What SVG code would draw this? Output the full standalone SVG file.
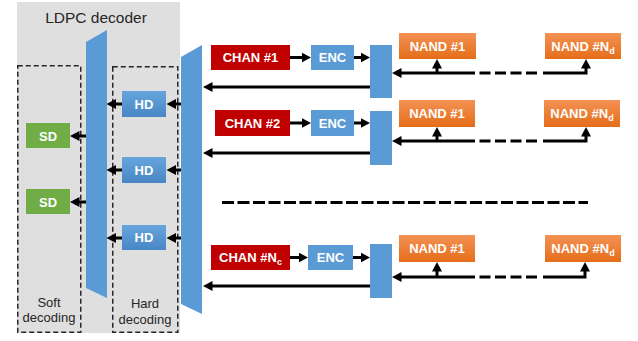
<svg xmlns="http://www.w3.org/2000/svg" width="638" height="341" viewBox="0 0 638 341">
  <style>
    .lbl { font-family: "Liberation Sans", Arial, sans-serif; font-weight: bold; font-size: 13px; fill: #ffffff; text-anchor: middle; }
    .cap { font-family: "Liberation Sans", Arial, sans-serif; font-size: 13px; fill: #262626; text-anchor: middle; }
    .title { font-family: "Liberation Sans", Arial, sans-serif; font-size: 15.5px; fill: #262626; text-anchor: middle; }
    .chan { fill: #C00000; }
    .blue { fill: #5B9BD5; }
    .nand { fill: url(#gNand); }
    .hd { fill: url(#gHd); }
    .sd { fill: #70AD47; }
    .dashbox { fill: none; stroke: #262626; stroke-width: 1.5; stroke-dasharray: 5 3; }
    .wire { fill: none; stroke: #000; stroke-width: 3; marker-end: url(#arr); }
    .plain { fill: none; stroke: #000; stroke-width: 3; }
    .dash { fill: none; stroke: #000; stroke-width: 3; stroke-dasharray: 11 4.5; }
  </style>
  <defs>
    <linearGradient id="gNand" x1="0" y1="0" x2="0" y2="1">
      <stop offset="0" stop-color="#F39254"/>
      <stop offset="1" stop-color="#E56D19"/>
    </linearGradient>
    <linearGradient id="gHd" x1="0" y1="0" x2="0" y2="1">
      <stop offset="0" stop-color="#67A5DD"/>
      <stop offset="1" stop-color="#4886C5"/>
    </linearGradient>
    <marker id="arr" markerUnits="userSpaceOnUse" markerWidth="10" markerHeight="11" viewBox="0 0 10 11" refX="4.5" refY="5.5" orient="auto">
      <path d="M0,0.5 L9.5,5.5 L0,10.5 z" fill="#000"/>
    </marker>
  </defs>

  <!-- decoder background -->
  <g id="ldpc">
    <rect x="17" y="2" width="163" height="331" fill="#DFDFDF"/>
    <text class="title" x="96" y="23">LDPC decoder</text>
  </g>

  <g id="soft-group">
    <rect class="dashbox" x="17.75" y="65.75" width="63" height="266.5"/>
    <text class="cap" x="49" y="307">Soft</text>
    <text class="cap" x="49" y="322">decoding</text>
  </g>
  <g id="hard-group">
    <rect class="dashbox" x="112.75" y="66.75" width="65" height="265.5"/>
    <text class="cap" x="145" y="308">Hard</text>
    <text class="cap" x="145" y="324">decoding</text>
  </g>

  <!-- switches -->
  <g id="mux1"><polygon class="blue" points="86,42 107,30 107,298 86,288"/></g>
  <g id="mux2"><polygon class="blue" points="181,57 202,45 202,314 181,304"/></g>

  <g id="sd1"><rect class="sd" x="26" y="123" width="44" height="25"/><text class="lbl" x="48" y="140.5">SD</text></g>
  <g id="sd2"><rect class="sd" x="26" y="189" width="44" height="25"/><text class="lbl" x="48" y="206.5">SD</text></g>

  <g id="hd1"><rect class="hd" x="122" y="91" width="44" height="26"/><text class="lbl" x="144" y="108.5">HD</text></g>
  <g id="hd2"><rect class="hd" x="122" y="157" width="44" height="26"/><text class="lbl" x="144" y="174.5">HD</text></g>
  <g id="hd3"><rect class="hd" x="122" y="225" width="44" height="25"/><text class="lbl" x="144" y="242">HD</text></g>

  <!-- channel 1 -->
  <g id="chan1"><rect class="chan" x="211" y="45" width="79" height="25"/><text class="lbl" x="250.5" y="62">CHAN #1</text></g>
  <g id="enc1"><rect class="blue" x="311" y="45" width="43" height="25"/><text class="lbl" x="332.5" y="62">ENC</text></g>
  <g id="blk1"><rect class="blue" x="370" y="45" width="22" height="53"/></g>
  <g id="nand1a"><rect class="nand" x="399" y="33" width="77" height="26"/><text class="lbl" x="437.5" y="50.5">NAND #1</text></g>
  <g id="nand1b"><rect class="nand" x="545" y="33" width="76" height="26"/><text class="lbl" x="583" y="50.5">NAND #N<tspan font-size="9" dy="3">d</tspan></text></g>

  <!-- channel 2 -->
  <g id="chan2"><rect class="chan" x="215" y="110" width="75" height="26"/><text class="lbl" x="252.5" y="127.5">CHAN #2</text></g>
  <g id="enc2"><rect class="blue" x="311" y="110" width="43" height="26"/><text class="lbl" x="332.5" y="127.5">ENC</text></g>
  <g id="blk2"><rect class="blue" x="370" y="111" width="22" height="54"/></g>
  <g id="nand2a"><rect class="nand" x="399" y="100" width="76" height="27"/><text class="lbl" x="437" y="118">NAND #1</text></g>
  <g id="nand2b"><rect class="nand" x="544" y="100" width="76" height="27"/><text class="lbl" x="582" y="118">NAND #N<tspan font-size="9" dy="3">d</tspan></text></g>

  <!-- channel Nc -->
  <g id="chan3"><rect class="chan" x="211" y="245" width="79" height="25"/><text class="lbl" x="250.5" y="262">CHAN #N<tspan font-size="9" dy="3">c</tspan></text></g>
  <g id="enc3"><rect class="blue" x="308" y="245" width="45" height="25"/><text class="lbl" x="330.5" y="262">ENC</text></g>
  <g id="blk3"><rect class="blue" x="370" y="244" width="22" height="54"/></g>
  <g id="nand3a"><rect class="nand" x="399" y="235" width="76" height="27"/><text class="lbl" x="437" y="253">NAND #1</text></g>
  <g id="nand3b"><rect class="nand" x="545" y="235" width="76" height="27"/><text class="lbl" x="583" y="253">NAND #N<tspan font-size="9" dy="3">d</tspan></text></g>

  <!-- connectors -->
  <g id="connectors">
    <!-- decoder internals -->
    <line class="wire" x1="86" y1="136" x2="75" y2="136"/>
    <line class="wire" x1="86" y1="202" x2="75" y2="202"/>
    <line class="wire" x1="181" y1="104" x2="171.5" y2="104"/>
    <line class="wire" x1="181" y1="170" x2="171.5" y2="170"/>
    <line class="wire" x1="181" y1="238" x2="171.5" y2="238"/>
    <line class="wire" x1="122" y1="104" x2="111.5" y2="104"/>
    <line class="wire" x1="122" y1="170" x2="111.5" y2="170"/>
    <line class="wire" x1="122" y1="238" x2="111.5" y2="238"/>

    <!-- row 1 -->
    <line class="wire" x1="290" y1="57.5" x2="306" y2="57.5"/>
    <line class="wire" x1="354" y1="57.5" x2="365" y2="57.5"/>
    <line class="wire" x1="370" y1="87" x2="208" y2="87"/>
    <line class="wire" x1="475" y1="73" x2="397" y2="73"/>
    <line class="wire" x1="437" y1="73" x2="437" y2="64"/>
    <line class="dash" x1="479.5" y1="73" x2="537.5" y2="73"/>
    <polyline class="wire" points="543,73 586,73 586,64"/>

    <!-- row 2 -->
    <line class="wire" x1="290" y1="123" x2="306" y2="123"/>
    <line class="wire" x1="354" y1="123" x2="365" y2="123"/>
    <line class="wire" x1="370" y1="153" x2="208" y2="153"/>
    <line class="wire" x1="475" y1="141" x2="397" y2="141"/>
    <line class="wire" x1="437" y1="141" x2="437" y2="132"/>
    <line class="dash" x1="479.5" y1="141" x2="537.5" y2="141"/>
    <polyline class="wire" points="543,141 586,141 586,132"/>

    <!-- separator -->
    <line class="plain" x1="222" y1="202.5" x2="588" y2="202.5" stroke-dasharray="12 3.5"/>

    <!-- row Nc -->
    <line class="wire" x1="290" y1="257.5" x2="303" y2="257.5"/>
    <line class="wire" x1="353" y1="257.5" x2="365" y2="257.5"/>
    <line class="wire" x1="370" y1="286" x2="208" y2="286"/>
    <line class="wire" x1="475" y1="277" x2="397" y2="277"/>
    <line class="wire" x1="437" y1="277" x2="437" y2="267"/>
    <line class="dash" x1="479.5" y1="277" x2="537.5" y2="277"/>
    <polyline class="wire" points="543,277 585,277 585,267"/>
  </g>
</svg>
